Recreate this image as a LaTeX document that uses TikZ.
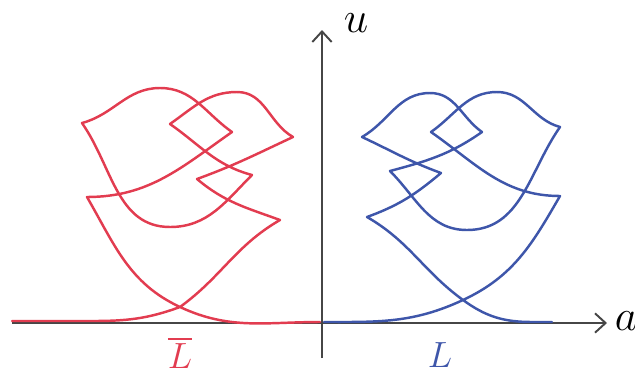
\documentclass[tikz,border=0pt]{standalone}
\usepackage{amsmath}
\usepackage{amssymb}
\usetikzlibrary{arrows.meta}
\definecolor{frontred}{RGB}{226,60,80}
\definecolor{frontblue}{RGB}{62,86,170}
\definecolor{axisgray}{RGB}{70,70,70}
\begin{document}
\begin{tikzpicture}[frontline/.style={line width=1.4pt,line join=round,line cap=round},
    axisline/.style={axisgray,line width=1.1pt,-{Straight Barb[length=6pt,width=11pt]}}]
                \useasboundingbox (-6.44,-1.08) rectangle (6.26,6.44);
                \draw[axisline] (-6.2,-0.02)--(5.7,-0.02);
                \draw[axisline] (0,-0.72)--(0,5.84);
                \node[inner sep=0pt] at (0.68,5.98) {\fontsize{24}{28}\selectfont $u$};
                \node[inner sep=0pt] at (6.08,0.02) {\fontsize{24}{28}\selectfont $a$};
                % blue front L
                \draw[frontline,frontblue] (0.04,0) to[out=0,in=205] (2.82,0.44)
                    to[out=25,in=240] (4.76,2.52)
                    to[out=180,in=-35] (2.18,3.80)
                    to[out=35,in=180] (3.50,4.60)
                    to[out=0,in=165] (4.76,3.90)
                    to[out=235,in=0] (2.90,1.84)
                    to[out=180,in=-45] (1.36,3.02)
                    to[out=15,in=215] (3.20,3.80)
                    to[out=145,in=0] (2.16,4.58)
                    to[out=180,in=30] (0.80,3.70)
                    to[out=-25,in=160] (2.38,2.98)
                    to[out=220,in=20] (0.90,2.10)
                    to[out=-30,in=144] (2.82,0.44)
                    to[out=-36,in=180] (4.2,0)--(4.6,0);
                % red front, mirror image
                \draw[frontline,frontred] (-0.04,0) to[out=180,in=-25] (-2.84,0.30)
                    to[out=155,in=-60] (-4.70,2.50)
                    to[out=0,in=215] (-1.80,3.80)
                    to[out=145,in=0] (-3.24,4.68)
                    to[out=180,in=15] (-4.80,3.98)
                    to[out=-55,in=180] (-3.04,1.90)
                    to[out=0,in=225] (-1.40,2.94)
                    to[out=165,in=-35] (-3.04,3.96)
                    to[out=35,in=180] (-1.70,4.60)
                    to[out=0,in=150] (-0.58,3.70)
                    to[out=205,in=20] (-2.50,2.86)
                    to[out=-40,in=160] (-0.84,2.04)
                    to[out=210,in=36] (-2.84,0.30)
                    to[out=200,in=0] (-4.6,0.02)--(-6.2,0.02);
                \node[frontred] at (-2.84,-0.62) {\fontsize{20}{24}\selectfont $\overline{L}$};
                \node[frontblue] at (2.36,-0.66) {\fontsize{20}{24}\selectfont $L$};
            \end{tikzpicture}
\end{document}
